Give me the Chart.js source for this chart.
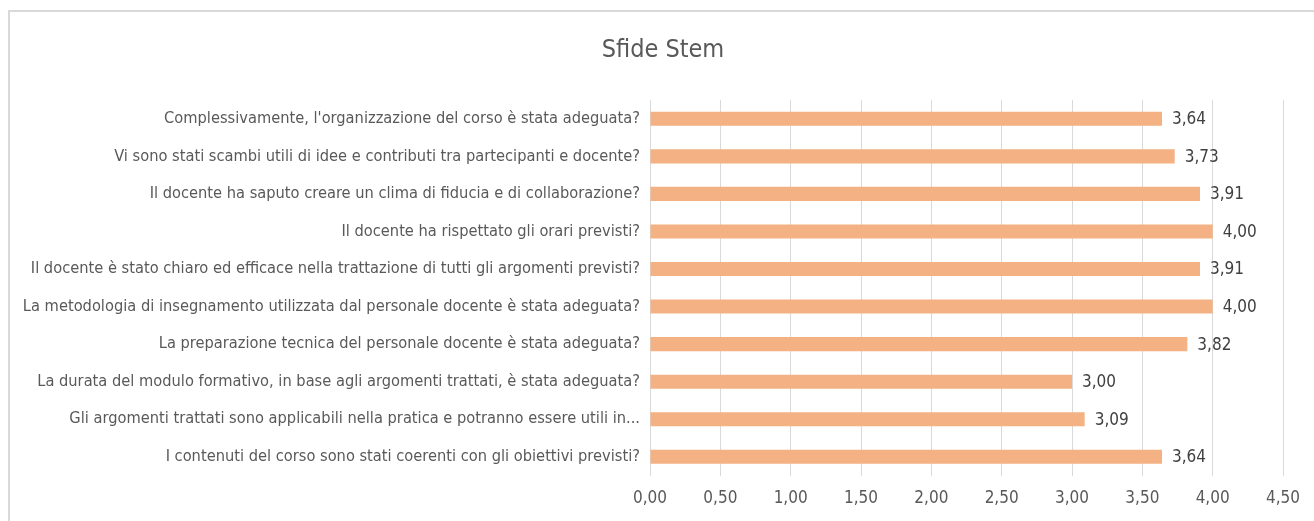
<!DOCTYPE html>
<html>
<head>
<meta charset="utf-8">
<script src="https://cdn.jsdelivr.net/npm/chart.js@4"></script>
<style>
  html, body { margin: 0; padding: 0; background: #fff; overflow: hidden; width: 1314px; height: 521px; }
  #frame { position: absolute; left: 8px; top: 10px; width: 1330px; height: 530px; border: 2px solid #d9d9d9; box-sizing: border-box; }
  #wrap { position: absolute; left: 0; top: 0; width: 1314px; height: 522px; }
  #title { position: absolute; left: 563px; width: 200px; top: 34px; text-align: center;
           font: 25px 'Liberation Sans Narrow', 'DejaVu Sans Condensed', sans-serif; color: #595959; }
</style>
</head>
<body>
<div id="frame"></div>
<div id="wrap"><canvas id="chart"></canvas></div>
<div id="title">Sfide Stem</div>
<script>
const categories = [
  "Complessivamente, l'organizzazione del corso è stata adeguata?",
  "Vi sono stati scambi utili di idee e contributi tra partecipanti e docente?",
  "Il docente ha saputo creare un clima di fiducia e di collaborazione?",
  "Il docente ha rispettato gli orari previsti?",
  "Il docente è stato chiaro ed efficace nella trattazione di tutti gli argomenti previsti?",
  "La metodologia di insegnamento utilizzata dal personale docente è stata adeguata?",
  "La preparazione tecnica del personale docente è stata adeguata?",
  "La durata del modulo formativo, in base agli argomenti trattati, è stata adeguata?",
  "Gli argomenti trattati sono applicabili nella pratica e potranno essere utili in...",
  "I contenuti del corso sono stati coerenti con gli obiettivi previsti?"
];
const scores = [3.64, 3.73, 3.91, 4.00, 3.91, 4.00, 3.82, 3.00, 3.09, 3.64];
const xTicks = [0, 0.5, 1, 1.5, 2, 2.5, 3, 3.5, 4, 4.5];

const FONT = "'Liberation Sans Narrow', 'DejaVu Sans Condensed', sans-serif";
const fmt = v => v.toFixed(2).replace('.', ',');

const valueLabels = {
  id: 'valueLabels',
  afterDatasetsDraw(chart) {
    const { ctx } = chart;
    const meta = chart.getDatasetMeta(0);
    ctx.save();
    ctx.font = '17px ' + FONT;
    ctx.fillStyle = '#404040';
    ctx.textAlign = 'left';
    ctx.textBaseline = 'middle';
    meta.data.forEach((bar, i) => {
      ctx.fillText(fmt(scores[i]), bar.x + 10, bar.y + 1);
    });
    ctx.restore();
  }
};

new Chart(document.getElementById('chart'), {
  type: 'bar',
  data: {
    labels: categories,
    datasets: [{
      data: scores,
      backgroundColor: '#F4B183',
      borderWidth: 0,
      barPercentage: 0.75,
      categoryPercentage: 0.5
    }]
  },
  options: {
    indexAxis: 'y',
    responsive: true,
    maintainAspectRatio: false,
    animation: false,
    layout: { padding: { left: 0, right: 31, top: 100, bottom: 0 } },
    plugins: {
      legend: { display: false },
      tooltip: { enabled: false },
      title: { display: false }
    },
    scales: {
      x: {
        min: 0,
        max: 4.5,
        afterBuildTicks: s => { s.ticks = xTicks.map(v => ({ value: v })); },
        grid: { color: '#d9d9d9', drawTicks: false },
        border: { display: false },
        ticks: {
          color: '#595959',
          padding: 13,
          font: { family: FONT, size: 17 },
          callback: v => fmt(v)
        }
      },
      y: {
        afterFit: s => { s.width = 650; },
        grid: { display: false, drawTicks: false },
        border: { color: '#d9d9d9', width: 1 },
        ticks: {
          color: '#595959',
          padding: 10,
          autoSkip: false,
          font: { family: FONT, size: 16.3 }
        }
      }
    }
  },
  plugins: [valueLabels]
});
</script>
</body>
</html>
